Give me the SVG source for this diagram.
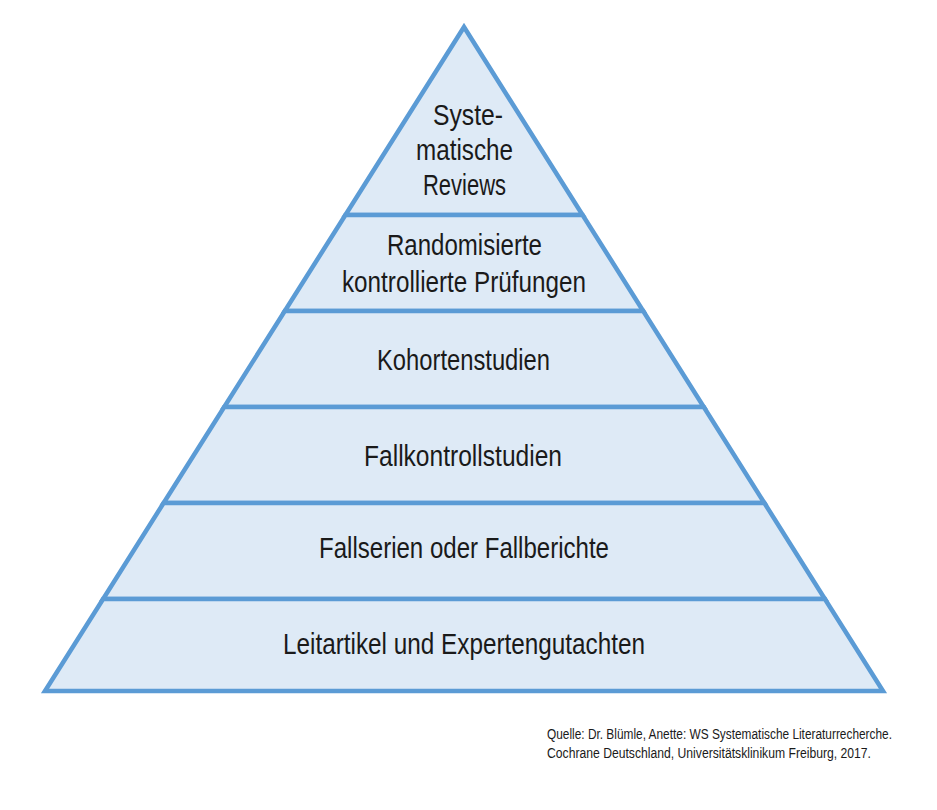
<svg xmlns="http://www.w3.org/2000/svg" width="937" height="810" viewBox="0 0 937 810">
<style>
.band{fill:#deeaf6;stroke:#5b9bd5;stroke-width:4.5;stroke-linejoin:miter;stroke-miterlimit:20}
.lbl{font-family:"Liberation Sans",Arial,sans-serif;font-size:29px;fill:#1a1a1a;text-anchor:middle}
.src{font-family:"Liberation Sans",Arial,sans-serif;font-size:14px;fill:#1a1a1a}
</style>
<rect width="937" height="810" fill="#ffffff"/>
<g id="level1">
<polygon class="band" points="464,27 582.6,215 345.4,215"/>
<text class="lbl" x="468" y="125" textLength="70" lengthAdjust="spacingAndGlyphs">Syste-</text>
<text class="lbl" x="464.5" y="160" textLength="97" lengthAdjust="spacingAndGlyphs">matische</text>
<text class="lbl" x="464.5" y="195" textLength="83" lengthAdjust="spacingAndGlyphs">Reviews</text>
</g>
<g id="level2">
<polygon class="band" points="345.4,215 582.6,215 643.2,311 284.8,311"/>
<text class="lbl" x="464.5" y="255" textLength="155" lengthAdjust="spacingAndGlyphs">Randomisierte</text>
<text class="lbl" x="464" y="292" textLength="244" lengthAdjust="spacingAndGlyphs">kontrollierte Prüfungen</text>
</g>
<g id="level3">
<polygon class="band" points="284.8,311 643.2,311 703.8,407 224.2,407"/>
<text class="lbl" x="463.5" y="370" textLength="173" lengthAdjust="spacingAndGlyphs">Kohortenstudien</text>
</g>
<g id="level4">
<polygon class="band" points="224.2,407 703.8,407 764.4,503 163.6,503"/>
<text class="lbl" x="463" y="466" textLength="198" lengthAdjust="spacingAndGlyphs">Fallkontrollstudien</text>
</g>
<g id="level5">
<polygon class="band" points="163.6,503 764.4,503 824.9,599 103.1,599"/>
<text class="lbl" x="464" y="558" textLength="290" lengthAdjust="spacingAndGlyphs">Fallserien oder Fallberichte</text>
</g>
<g id="level6">
<polygon class="band" points="103.1,599 824.9,599 883,691 45,691"/>
<text class="lbl" x="464" y="654" textLength="362" lengthAdjust="spacingAndGlyphs">Leitartikel und Expertengutachten</text>
</g>
<g id="connectors"></g>
<g id="source">
<text class="src" x="547" y="739" textLength="345" lengthAdjust="spacingAndGlyphs">Quelle: Dr. Blümle, Anette: WS Systematische Literaturrecherche.</text>
<text class="src" x="547" y="758" textLength="324" lengthAdjust="spacingAndGlyphs">Cochrane Deutschland, Universitätsklinikum Freiburg, 2017.</text>
</g>
</svg>
